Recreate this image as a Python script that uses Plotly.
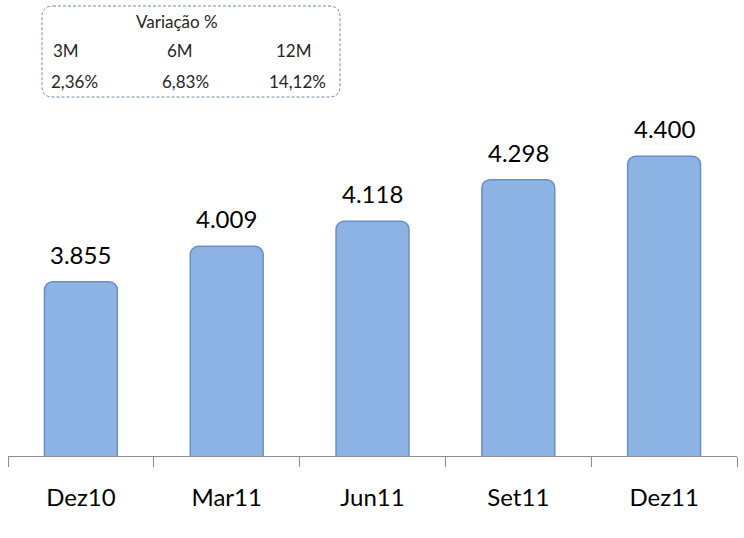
import plotly.graph_objects as go

categories = ["Dez10", "Mar11", "Jun11", "Set11", "Dez11"]
values = [3855, 4009, 4118, 4298, 4400]
value_labels = ["3.855", "4.009", "4.118", "4.298", "4.400"]
box_title = "Variação %"
box_periods = ["3M", "6M", "12M"]
box_changes = ["2,36%", "6,83%", "14,12%"]

W, H = 744, 538
ML, MR, MT, MB = 8, 7, 110, 82
PW, PH = W - ML - MR, H - MT - MB

def px(x):
    return (x - ML) / PW

def py(y):
    return (H - MB - y) / PH

fig = go.Figure()
fig.add_trace(go.Bar(
    x=categories, y=values,
    marker=dict(color="#8DB3E4", line=dict(color="#6A8FC6", width=1.5), cornerradius=8),
    hoverinfo="skip",
))
for c, v, t in zip(categories, values, value_labels):
    fig.add_annotation(x=c, y=v, xref="x", yref="y", text=t, showarrow=False,
                       yanchor="bottom", yshift=11,
                       font=dict(family="Lato", size=24, color="#000000"))

# rounded dashed box
x0, x1, y0, y1, r = 42, 340, 6, 97, 11
path = (
    f"M {px(x0+r)} {py(y0)} L {px(x1-r)} {py(y0)} "
    f"Q {px(x1)} {py(y0)} {px(x1)} {py(y0+r)} "
    f"L {px(x1)} {py(y1-r)} Q {px(x1)} {py(y1)} {px(x1-r)} {py(y1)} "
    f"L {px(x0+r)} {py(y1)} Q {px(x0)} {py(y1)} {px(x0)} {py(y1-r)} "
    f"L {px(x0)} {py(y0+r)} Q {px(x0)} {py(y0)} {px(x0+r)} {py(y0)} Z"
)
fig.add_shape(type="path", path=path, xref="paper", yref="paper",
              line=dict(color="#6F8CB3", width=1, dash="3px,2px"), fillcolor="rgba(0,0,0,0)")

afont = dict(family="Lato", size=17, color="#262626")
fig.add_annotation(x=px(177), y=py(21), xref="paper", yref="paper", text=box_title,
                   showarrow=False, font=afont, xanchor="center", yanchor="middle")
for xc, t in zip([66, 180, 294], box_periods):
    fig.add_annotation(x=px(xc), y=py(51), xref="paper", yref="paper", text=t,
                       showarrow=False, font=afont, xanchor="center", yanchor="middle")
for xc, t in zip([74, 185, 297], box_changes):
    fig.add_annotation(x=px(xc), y=py(82), xref="paper", yref="paper", text=t,
                       showarrow=False, font=afont, xanchor="center", yanchor="middle")

fig.update_layout(
    width=W, height=H,
    margin=dict(l=ML, r=MR, t=MT, b=MB),
    paper_bgcolor="white", plot_bgcolor="white",
    bargap=0.5, showlegend=False,
    xaxis=dict(
        type="category", showline=True, linecolor="#8C8C8C", linewidth=1,
        ticks="outside", tickson="boundaries", ticklen=10, tickcolor="#8C8C8C",
        tickfont=dict(family="Lato", size=24, color="#000000"),
        ticklabelstandoff=20, showgrid=False, zeroline=False,
    ),
    yaxis=dict(range=[3100, 4600], visible=False, showgrid=False),
)

fig.write_html("out.html")
